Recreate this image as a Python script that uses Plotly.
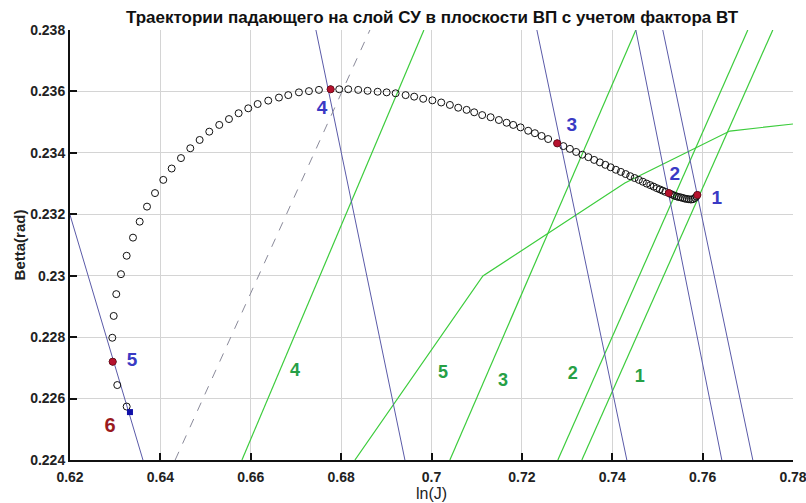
import plotly.graph_objects as go

# ---- data ----
traj_x = [0.63254, 0.63046, 0.62945, 0.62936, 0.62967, 0.63024, 0.63128, 0.63254, 0.63394, 0.63542,
          0.63704, 0.63881, 0.64064, 0.64250, 0.64456, 0.64662, 0.64869, 0.65082, 0.65303, 0.65518,
          0.65732, 0.65945, 0.66153, 0.66387, 0.66624, 0.66830, 0.67066, 0.67288, 0.67509, 0.67768,
          0.67958, 0.68157, 0.68378, 0.68586, 0.68808, 0.69007, 0.69206, 0.69427, 0.69617, 0.69816,
          0.70020, 0.70215, 0.70407, 0.70591, 0.70777, 0.70945, 0.71122, 0.71308, 0.71491, 0.71662,
          0.71808, 0.71971, 0.72139, 0.72288, 0.72436, 0.72582, 0.72781, 0.72918, 0.73062, 0.73201,
          0.73338, 0.73471, 0.73600, 0.73726, 0.73847, 0.73965, 0.74080, 0.74190, 0.74296, 0.74398,
          0.74496, 0.74589, 0.74677, 0.74761, 0.74841, 0.74916, 0.74987, 0.75053, 0.75115, 0.75175,
          0.75252, 0.75296, 0.75341, 0.75385, 0.75429, 0.75473, 0.75518, 0.75562, 0.75606, 0.75650,
          0.75695, 0.75739, 0.75783, 0.75827, 0.75861, 0.75883]
traj_y = [0.22574, 0.22644, 0.22720, 0.22798, 0.22869, 0.22940, 0.23005, 0.23065, 0.23124, 0.23176,
          0.23225, 0.23269, 0.23312, 0.23349, 0.23383, 0.23415, 0.23442, 0.23469, 0.23491, 0.23510,
          0.23529, 0.23545, 0.23559, 0.23570, 0.23580, 0.23588, 0.23597, 0.23601, 0.23605, 0.23607,
          0.23607, 0.23607, 0.23605, 0.23602, 0.23599, 0.23597, 0.23594, 0.23588, 0.23583, 0.23576,
          0.23571, 0.23564, 0.23556, 0.23547, 0.23540, 0.23532, 0.23523, 0.23516, 0.23507, 0.23498,
          0.23491, 0.23483, 0.23472, 0.23464, 0.23455, 0.23445, 0.23431, 0.23422, 0.23413, 0.23403,
          0.23394, 0.23386, 0.23377, 0.23369, 0.23361, 0.23353, 0.23345, 0.23338, 0.23331, 0.23324,
          0.23318, 0.23312, 0.23306, 0.23300, 0.23295, 0.23290, 0.23285, 0.23281, 0.23277, 0.23273,
          0.23269, 0.23266, 0.23263, 0.23260, 0.23258, 0.23256, 0.23255, 0.23253, 0.23251, 0.23250,
          0.23249, 0.23248, 0.23249, 0.23253, 0.23258, 0.23263]

red_x = [0.75883, 0.75252, 0.72781, 0.67768, 0.62945]
red_y = [0.23263, 0.23269, 0.23431, 0.23607, 0.22720]
square_x = [0.63327]
square_y = [0.22556]

# blue (navy) lines
blue_lines = {
    "1": ([0.75119, 0.77111], [0.238, 0.224]),
    "2": ([0.74522, 0.76425], [0.238, 0.224]),
    "3": ([0.72332, 0.74323], [0.238, 0.224]),
    "4": ([0.67442, 0.69412], [0.238, 0.224]),
    "5": ([0.62000, 0.63615], [0.23198, 0.224]),
}
# green lines
green_lines = {
    "1": ([0.73327, 0.77553], [0.224, 0.238]),
    "2": ([0.72796, 0.77000], [0.224, 0.238]),
    "3": ([0.70407, 0.74522], [0.224, 0.238]),
    "4": ([0.65805, 0.69832], [0.224, 0.238]),
    "5": ([0.68305, 0.71137, 0.74279, 0.76602, 0.78], [0.224, 0.22999, 0.23302, 0.23471, 0.23494]),
}
dashed_x = [0.64327, 0.68637]
dashed_y = [0.224, 0.238]

blue_lab_text = ["1", "2", "3", "4", "5"]
blue_lab_x = [0.76314, 0.75385, 0.73102, 0.67575, 0.63372]
blue_lab_y = [0.23250, 0.23328, 0.23487, 0.23543, 0.22722]
green_lab_text = ["4", "5", "3", "2", "1"]
green_lab_x = [0.66978, 0.70252, 0.71580, 0.73124, 0.74611]
green_lab_y = [0.22687, 0.22683, 0.22657, 0.22680, 0.22670]
red_lab_text = ["6"]
red_lab_x = [0.62885]
red_lab_y = [0.22508]

x_ticks = [0.62, 0.64, 0.66, 0.68, 0.70, 0.72, 0.74, 0.76, 0.78]
x_tick_text = ["0.62", "0.64", "0.66", "0.68", "0.7", "0.72", "0.74", "0.76", "0.78"]
y_ticks = [0.224, 0.226, 0.228, 0.230, 0.232, 0.234, 0.236, 0.238]
y_tick_text = ["0.224", "0.226", "0.228", "0.23", "0.232", "0.234", "0.236", "0.238"]

title = "Траектории падающего на слой СУ в плоскости ВП с учетом фактора ВТ"

BLUE_LINE = "#5a5aa8"
GREEN_LINE = "#3ccc3c"
FONT = "Liberation Sans, Arial, sans-serif"

fig = go.Figure()
for k, (xs, ys) in green_lines.items():
    fig.add_trace(go.Scatter(x=xs, y=ys, mode="lines", line=dict(color=GREEN_LINE, width=1.2),
                             hoverinfo="skip", showlegend=False))
for k, (xs, ys) in blue_lines.items():
    fig.add_trace(go.Scatter(x=xs, y=ys, mode="lines", line=dict(color=BLUE_LINE, width=1),
                             hoverinfo="skip", showlegend=False))
fig.add_trace(go.Scatter(x=dashed_x, y=dashed_y, mode="lines",
                         line=dict(color="#8a8a9a", width=1, dash="dash"), showlegend=False))
fig.add_trace(go.Scatter(x=traj_x, y=traj_y, mode="markers",
                         marker=dict(symbol="circle-open", size=7, color="#111111", line=dict(width=1)),
                         showlegend=False))
fig.add_trace(go.Scatter(x=red_x, y=red_y, mode="markers",
                         marker=dict(symbol="circle", size=7, color="#b5122e",
                                     line=dict(width=0.5, color="#700010")),
                         showlegend=False))
fig.add_trace(go.Scatter(x=square_x, y=square_y, mode="markers",
                         marker=dict(symbol="square", size=6, color="#1010a8"), showlegend=False))
fig.add_trace(go.Scatter(x=blue_lab_x, y=blue_lab_y, mode="text", text=blue_lab_text,
                         textfont=dict(family=FONT, size=19, color="#3a3ac4", weight="bold"),
                         showlegend=False))
fig.add_trace(go.Scatter(x=green_lab_x, y=green_lab_y, mode="text", text=green_lab_text,
                         textfont=dict(family=FONT, size=18, color="#26a046", weight="bold"),
                         showlegend=False))
fig.add_trace(go.Scatter(x=red_lab_x, y=red_lab_y, mode="text", text=red_lab_text,
                         textfont=dict(family=FONT, size=20, color="#9a1a1e", weight="bold"),
                         showlegend=False))

fig.update_layout(
    width=806, height=503,
    margin=dict(l=70, r=13, t=30, b=43, autoexpand=False),
    paper_bgcolor="white", plot_bgcolor="white",
    title=dict(text="<b>" + title + "</b>", x=0.536, xanchor="center", y=0.966, yanchor="middle",
               font=dict(family=FONT, size=17, color="#111")),
    font=dict(family=FONT, color="#222"),
)
fig.update_xaxes(range=[0.62, 0.78], tickvals=x_ticks, ticktext=["<b>%s</b>" % t for t in x_tick_text],
                 automargin=False, ticklabeloverflow="allow",
                 showgrid=True, gridcolor="#d4d4d4", gridwidth=1, zeroline=False,
                 showline=True, linecolor="#111", linewidth=2, ticks="inside", ticklen=7, tickwidth=2,
                 tickcolor="#111", tickfont=dict(family=FONT, size=14, color="#222"),
                 ticklabelstandoff=3,
                 title=dict(text="ln(J)", font=dict(family=FONT, size=16, color="#222"), standoff=2))
fig.update_yaxes(range=[0.224, 0.238], tickvals=y_ticks, ticktext=["<b>%s</b>" % t for t in y_tick_text],
                 automargin=False, ticklabeloverflow="allow",
                 showgrid=True, gridcolor="#d4d4d4", gridwidth=1, zeroline=False,
                 showline=True, linecolor="#111", linewidth=2, ticks="inside", ticklen=7, tickwidth=2,
                 tickcolor="#111", tickfont=dict(family=FONT, size=14, color="#222"),
                 title=dict(text="<b>Betta(rad)</b>", font=dict(family=FONT, size=15, color="#222"), standoff=1))

fig.write_html("out.html", config={"displayModeBar": False},
               post_script="document.body.style.margin='0px';document.body.style.overflow='hidden';")
